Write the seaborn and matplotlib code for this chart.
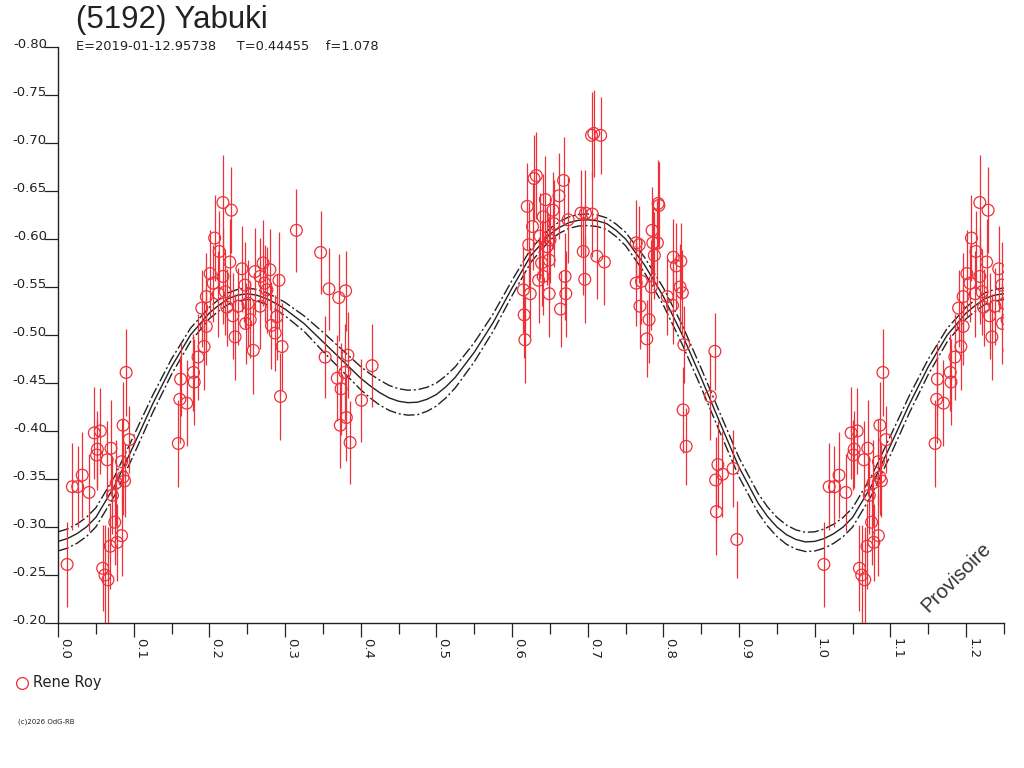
import numpy as np
import pandas as pd
import matplotlib
matplotlib.use("Agg")
import matplotlib.pyplot as plt
import matplotlib.transforms as transforms
from matplotlib.lines import Line2D
from matplotlib.ticker import FormatStrFormatter
import seaborn as sns

phase = [
    0.012, 0.019, 0.026, 0.032, 0.041, 0.048, 0.052, 0.051, 0.056, 0.059,
    0.062, 0.065, 0.066, 0.069, 0.070, 0.072, 0.075, 0.077, 0.078, 0.084,
    0.084, 0.086, 0.086, 0.088, 0.090, 0.094, 0.159, 0.161, 0.162, 0.170,
    0.179, 0.180, 0.185, 0.190, 0.193, 0.196, 0.196, 0.201, 0.205, 0.207,
    0.212, 0.213, 0.218, 0.218, 0.221, 0.223, 0.227, 0.229, 0.231, 0.234,
    0.238, 0.243, 0.247, 0.248, 0.251, 0.254, 0.258, 0.260, 0.267, 0.267,
    0.271, 0.273, 0.276, 0.280, 0.282, 0.287, 0.289, 0.292, 0.294, 0.296,
    0.315, 0.347, 0.353, 0.358, 0.369, 0.371, 0.373, 0.374, 0.379, 0.380,
    0.381, 0.383, 0.386, 0.401, 0.415,
    0.615, 0.616, 0.617, 0.620, 0.622, 0.624, 0.627, 0.629, 0.632, 0.635,
    0.637, 0.639, 0.641, 0.641, 0.644, 0.646, 0.649, 0.649, 0.650, 0.654,
    0.655, 0.662, 0.664, 0.668, 0.670, 0.671, 0.674, 0.691, 0.694, 0.696,
    0.697, 0.705, 0.706, 0.708, 0.712, 0.717, 0.722,
    0.764, 0.764, 0.768, 0.769, 0.771, 0.778, 0.781, 0.784, 0.785, 0.786,
    0.788, 0.792, 0.793, 0.794, 0.805, 0.812, 0.813, 0.817, 0.822, 0.823,
    0.825, 0.826, 0.827, 0.830, 0.862, 0.868, 0.869, 0.870, 0.872, 0.878,
    0.892, 0.897,
]
mag = [
    -0.261, -0.342, -0.342, -0.354, -0.336, -0.398, -0.381, -0.375, -0.400, -0.257,
    -0.250, -0.370, -0.245, -0.280, -0.382, -0.333, -0.305, -0.346, -0.284, -0.291,
    -0.368, -0.352, -0.406, -0.348, -0.461, -0.391, -0.387, -0.433, -0.454, -0.429,
    -0.461, -0.451, -0.477, -0.528, -0.488, -0.509, -0.540, -0.564, -0.554, -0.601,
    -0.543, -0.587, -0.638, -0.561, -0.545, -0.529, -0.576, -0.630, -0.520, -0.498,
    -0.530, -0.569, -0.552, -0.512, -0.533, -0.516, -0.484, -0.566, -0.561, -0.530,
    -0.575, -0.554, -0.547, -0.568, -0.510, -0.502, -0.519, -0.557, -0.436, -0.488,
    -0.609, -0.586, -0.477, -0.548, -0.455, -0.539, -0.406, -0.444, -0.461, -0.546,
    -0.414, -0.479, -0.388, -0.432, -0.468,
    -0.547, -0.521, -0.495, -0.634, -0.594, -0.543, -0.613, -0.663, -0.666, -0.557,
    -0.603, -0.575, -0.623, -0.561, -0.641, -0.592, -0.578, -0.543, -0.599, -0.630,
    -0.616, -0.645, -0.527, -0.661, -0.561, -0.543, -0.620, -0.627, -0.587, -0.558,
    -0.627, -0.708, -0.626, -0.710, -0.582, -0.708, -0.576,
    -0.554, -0.596, -0.594, -0.530, -0.556, -0.496, -0.516, -0.550, -0.609, -0.596,
    -0.583, -0.596, -0.637, -0.635, -0.540, -0.531, -0.581, -0.572, -0.550, -0.577,
    -0.544, -0.422, -0.490, -0.384, -0.436, -0.483, -0.349, -0.316, -0.365, -0.355,
    -0.361, -0.287,
]
err = [
    0.044, 0.045, 0.042, 0.045, 0.040, 0.048, 0.040, 0.036, 0.045, 0.045,
    0.052, 0.040, 0.055, 0.045, 0.050, 0.040, 0.045, 0.045, 0.040, 0.042,
    0.045, 0.040, 0.045, 0.038, 0.045, 0.035, 0.045, 0.045, 0.038, 0.045,
    0.040, 0.045, 0.045, 0.040, 0.045, 0.040, 0.045, 0.045, 0.040, 0.045,
    0.045, 0.042, 0.050, 0.050, 0.045, 0.040, 0.045, 0.045, 0.045, 0.045,
    0.040, 0.045, 0.045, 0.042, 0.045, 0.040, 0.045, 0.045, 0.040, 0.045,
    0.045, 0.040, 0.045, 0.042, 0.045, 0.040, 0.045, 0.050, 0.045, 0.045,
    0.043, 0.043, 0.043, 0.043, 0.045, 0.045, 0.045, 0.048, 0.050, 0.042,
    0.045, 0.045, 0.043, 0.043, 0.043,
    0.045, 0.045, 0.045, 0.045, 0.045, 0.045, 0.045, 0.045, 0.045, 0.045,
    0.045, 0.045, 0.045, 0.040, 0.045, 0.040, 0.045, 0.045, 0.045, 0.040,
    0.045, 0.045, 0.040, 0.045, 0.045, 0.045, 0.045, 0.045, 0.045, 0.045,
    0.045, 0.045, 0.045, 0.045, 0.045, 0.040, 0.045,
    0.045, 0.045, 0.040, 0.045, 0.045, 0.040, 0.045, 0.045, 0.045, 0.045,
    0.045, 0.045, 0.045, 0.045, 0.040, 0.040, 0.040, 0.045, 0.045, 0.040,
    0.045, 0.045, 0.040, 0.040, 0.045, 0.040, 0.045, 0.045, 0.045, 0.045,
    0.040, 0.040,
]

# --- fitted light curve and its uncertainty band, read at fixed phases ---
curve_phase = [
    0.000, 0.0125, 0.025, 0.0375, 0.050, 0.075, 0.100, 0.125, 0.150, 0.175,
    0.200, 0.2125, 0.225, 0.2375, 0.250, 0.2625, 0.275, 0.2875, 0.300, 0.325,
    0.350, 0.375, 0.400, 0.4125, 0.425, 0.4375, 0.450, 0.4625, 0.475, 0.4875,
    0.500, 0.5125, 0.525, 0.550, 0.575, 0.600, 0.625, 0.650, 0.6625, 0.675,
    0.6875, 0.700, 0.7125, 0.725, 0.7375, 0.750, 0.775, 0.800, 0.825, 0.850,
    0.875, 0.900, 0.925, 0.9375, 0.950, 0.9625, 0.975, 0.9875, 1.000,
]
curve_mag = [
    -0.285, -0.288, -0.293, -0.300, -0.310, -0.343, -0.385, -0.428, -0.467, -0.500,
    -0.523, -0.531, -0.538, -0.5415, -0.543, -0.5415, -0.538, -0.533, -0.527, -0.512,
    -0.493, -0.474, -0.455, -0.447, -0.440, -0.4345, -0.431, -0.4295, -0.430, -0.433,
    -0.438, -0.446, -0.456, -0.482, -0.513, -0.549, -0.583, -0.605, -0.612, -0.617,
    -0.6195, -0.620, -0.619, -0.616, -0.609, -0.600, -0.573, -0.540, -0.500, -0.455,
    -0.408, -0.362, -0.325, -0.311, -0.300, -0.292, -0.287, -0.2845, -0.285,
]
curve_band = [
    0.010, 0.010, 0.010, 0.010, 0.010, 0.010, 0.010, 0.009, 0.008, 0.007,
    0.006, 0.006, 0.006, 0.006, 0.006, 0.006, 0.006, 0.0065, 0.007, 0.008,
    0.010, 0.011, 0.012, 0.0125, 0.013, 0.013, 0.013, 0.013, 0.013, 0.0125,
    0.012, 0.0115, 0.011, 0.010, 0.009, 0.008, 0.007, 0.006, 0.006, 0.006,
    0.006, 0.006, 0.006, 0.006, 0.0065, 0.007, 0.008, 0.009, 0.010, 0.010,
    0.010, 0.010, 0.010, 0.010, 0.010, 0.010, 0.010, 0.010, 0.010,
]

XMAX = 1.25
red = "#ee3038"
ink = "#222222"

# points are repeated one period later to fill the 1.0 - 1.25 stretch
obs = pd.DataFrame({"phase": phase, "mag": mag, "err": err})
wrap = obs[obs.phase + 1 <= XMAX + 0.01].copy()
wrap["phase"] = wrap["phase"] + 1
obs = pd.concat([obs, wrap], ignore_index=True)

fit = pd.DataFrame({"phase": curve_phase, "mag": curve_mag, "band": curve_band})
fit_wrap = fit[(fit.phase > 0) & (fit.phase + 1 <= XMAX + 0.001)].copy()
fit_wrap["phase"] = fit_wrap["phase"] + 1
fit = pd.concat([fit, fit_wrap], ignore_index=True)

sns.set_theme(style="white")
plt.rcParams["font.family"] = ["DejaVu Sans"]
plt.rcParams["axes.unicode_minus"] = False

fig = plt.figure(figsize=(10.24, 7.68), dpi=100)
ax = fig.add_axes([58 / 1024, 1 - 623 / 768, 946 / 1024, 576 / 768])

dashdot = (0, (8, 2, 1.5, 2))
sns.lineplot(x=fit.phase, y=fit.mag, ax=ax, color=ink, lw=1.0,
             sort=False, estimator=None, zorder=2)
sns.lineplot(x=fit.phase, y=fit.mag - fit.band, ax=ax, color=ink, lw=1.0,
             linestyle=dashdot, sort=False, estimator=None, zorder=2)
sns.lineplot(x=fit.phase, y=fit.mag + fit.band, ax=ax, color=ink, lw=1.0,
             linestyle=dashdot, sort=False, estimator=None, zorder=2)

ax.vlines(obs.phase, obs.mag - obs.err, obs.mag + obs.err, color=red, lw=0.9, zorder=3)
sns.scatterplot(data=obs, x="phase", y="mag", ax=ax, marker="o", s=72,
                facecolor="none", edgecolor=red, linewidth=0.9, zorder=4)

ax.set_xlim(0, XMAX)
ax.set_ylim(-0.20, -0.80)
ax.set_xlabel("")
ax.set_ylabel("")

ax.set_xticks(np.round(np.arange(0, 1.21, 0.1), 2))
ax.set_xticks(np.round(np.arange(0.05, 1.26, 0.1), 2), minor=True)
ax.xaxis.set_major_formatter(FormatStrFormatter("%.1f"))
ax.set_yticks(np.round(np.arange(-0.80, -0.19, 0.05), 2))
ax.yaxis.set_major_formatter(FormatStrFormatter("%.2f"))

ax.tick_params(axis="x", which="major", direction="out", length=10, width=0.9,
               color=ink, labelsize=9.5, pad=1, labelcolor=ink, bottom=True)
ax.tick_params(axis="x", which="minor", direction="out", length=8, width=0.9,
               color=ink, bottom=True)
ax.tick_params(axis="y", which="major", direction="out", length=10, width=0.9,
               color=ink, labelsize=9.5, pad=1, labelcolor=ink, left=True)
for lbl in ax.get_xticklabels():
    lbl.set_rotation(270)
    lbl.set_ha("left")
    lbl.set_va("top")
shift = transforms.ScaledTranslation(3 / 72, 3 / 72, fig.dpi_scale_trans)
for lbl in ax.get_yticklabels():
    lbl.set_transform(lbl.get_transform() + shift)

for side in ["top", "right"]:
    ax.spines[side].set_visible(False)
for side in ["left", "bottom"]:
    ax.spines[side].set_color(ink)
    ax.spines[side].set_linewidth(1.0)
ax.grid(False)

ax.text(1.187, -0.248, "Provisoire", rotation=45, ha="center", va="center",
        fontsize=14.5, family=["Liberation Sans"], color="#333333")

# titles
fig.text(76 / 1024, 1 - 20 / 768, "(5192) Yabuki", fontsize=22.5,
         family=["Liberation Sans"], color=ink, va="center", ha="left")
fig.text(76 / 1024, 1 - 47 / 768, "E=2019-01-12.95738     T=0.44455    f=1.078",
         fontsize=9.4, color=ink, va="center", ha="left")

# observer legend
fig.add_artist(Line2D([22 / 1024], [1 - 683 / 768], marker="o", markersize=8.5,
                      markerfacecolor="none", markeredgecolor=red,
                      markeredgewidth=0.9, linestyle="none"))
fig.text(33 / 1024, 1 - 683 / 768, "Rene Roy", fontsize=10.5, color=ink,
         va="center", ha="left")
fig.text(18 / 1024, 1 - 722 / 768, "(c)2026 OdG-RB", fontsize=5, color=ink,
         va="center", ha="left")

fig.savefig("out.png", dpi=100, facecolor="white")
